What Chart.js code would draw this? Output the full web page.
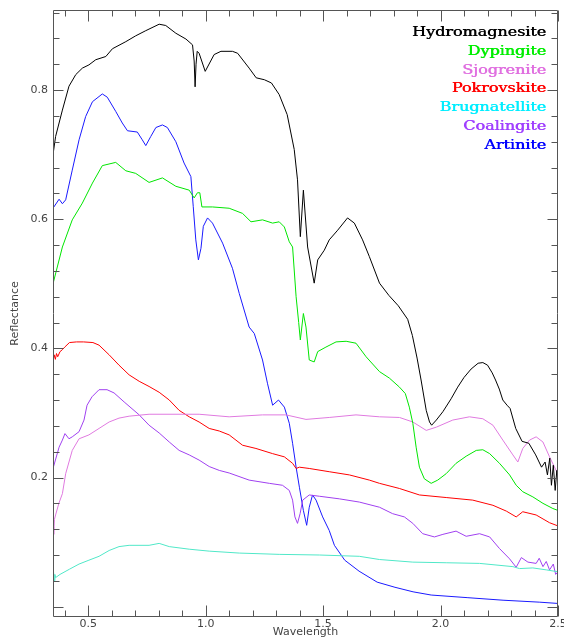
<!DOCTYPE html>
<html><head><meta charset="utf-8">
<script src="https://cdn.jsdelivr.net/npm/chart.js@4.4.1/dist/chart.umd.min.js"></script>
<style>html,body{margin:0;padding:0;background:#fff;}canvas{display:block;}</style>
</head><body>
<canvas id="c" width="564" height="639"></canvas>
<script>
// ---- data (wavelength in microns, reflectance) ----
const hydroX = [0.35,0.361,0.39,0.418,0.447,0.475,0.503,0.532,0.575,0.603,0.66,0.702,0.745,0.802,0.83,0.873,0.916,0.944,0.951,0.955,0.959,0.964,0.972,0.998,1.036,1.065,1.114,1.136,1.185,1.215,1.25,1.28,1.313,1.347,1.377,1.391,1.403,1.416,1.434,1.462,1.477,1.505,1.526,1.562,1.604,1.633,1.668,1.697,1.74,1.78,1.82,1.86,1.88,1.90,1.917,1.939,1.953,1.962,1.982,2.01,2.045,2.073,2.10,2.13,2.16,2.18,2.20,2.22,2.234,2.25,2.265,2.283,2.296,2.32,2.347,2.376,2.405,2.43,2.445,2.455,2.465,2.472,2.48,2.488,2.495,2.5];
const hydroY = [0.70,0.728,0.769,0.806,0.824,0.834,0.839,0.847,0.852,0.864,0.875,0.884,0.892,0.902,0.90,0.888,0.879,0.87,0.845,0.805,0.84,0.86,0.857,0.829,0.855,0.86,0.86,0.857,0.834,0.819,0.816,0.811,0.793,0.762,0.708,0.661,0.573,0.645,0.557,0.501,0.537,0.552,0.568,0.583,0.602,0.594,0.568,0.542,0.501,0.482,0.466,0.445,0.42,0.385,0.351,0.304,0.286,0.281,0.289,0.302,0.322,0.34,0.355,0.368,0.377,0.378,0.374,0.362,0.351,0.337,0.32,0.312,0.307,0.276,0.256,0.253,0.235,0.216,0.224,0.204,0.23,0.188,0.219,0.18,0.211,0.196];

const dypX = [0.35,0.39,0.432,0.475,0.518,0.56,0.617,0.66,0.702,0.759,0.816,0.873,0.93,0.951,0.965,0.975,0.984,1.029,1.10,1.157,1.193,1.242,1.285,1.313,1.335,1.356,1.37,1.385,1.396,1.403,1.416,1.427,1.441,1.462,1.477,1.512,1.555,1.598,1.64,1.683,1.74,1.782,1.825,1.85,1.867,1.882,1.896,1.91,1.931,1.96,1.988,2.024,2.066,2.109,2.152,2.18,2.209,2.251,2.294,2.322,2.35,2.393,2.436,2.478,2.5];
const dypY = [0.50,0.557,0.599,0.625,0.656,0.683,0.688,0.675,0.671,0.657,0.664,0.651,0.645,0.633,0.641,0.641,0.619,0.619,0.617,0.609,0.596,0.599,0.594,0.596,0.588,0.565,0.557,0.48,0.44,0.413,0.454,0.433,0.382,0.379,0.395,0.402,0.41,0.411,0.408,0.387,0.364,0.354,0.34,0.33,0.309,0.284,0.247,0.216,0.198,0.191,0.196,0.206,0.222,0.233,0.242,0.243,0.237,0.222,0.204,0.188,0.178,0.17,0.16,0.152,0.149];

const sjoX = [0.35,0.353,0.356,0.361,0.375,0.39,0.404,0.432,0.461,0.503,0.546,0.589,0.631,0.674,0.759,0.972,1.10,1.242,1.342,1.427,1.526,1.64,1.74,1.825,1.882,1.939,1.982,2.052,2.123,2.18,2.223,2.265,2.308,2.329,2.35,2.379,2.407,2.436,2.464,2.5];
const sjoY = [0.123,0.112,0.135,0.142,0.16,0.175,0.206,0.242,0.26,0.266,0.276,0.286,0.292,0.295,0.298,0.298,0.294,0.297,0.297,0.29,0.293,0.297,0.294,0.293,0.286,0.273,0.278,0.289,0.294,0.291,0.281,0.258,0.235,0.224,0.245,0.258,0.263,0.255,0.232,0.205];

const pokX = [0.35,0.355,0.36,0.365,0.37,0.38,0.39,0.40,0.42,0.45,0.48,0.52,0.546,0.589,0.631,0.674,0.717,0.759,0.802,0.845,0.887,0.93,0.972,1.015,1.058,1.10,1.157,1.214,1.285,1.335,1.37,1.385,1.399,1.441,1.526,1.612,1.697,1.74,1.825,1.91,2.024,2.137,2.223,2.28,2.322,2.35,2.407,2.464,2.5];
const pokY = [0.38,0.39,0.383,0.392,0.387,0.395,0.398,0.402,0.409,0.41,0.41,0.409,0.405,0.39,0.374,0.359,0.349,0.341,0.332,0.32,0.304,0.294,0.286,0.276,0.272,0.266,0.25,0.245,0.237,0.232,0.222,0.214,0.216,0.214,0.209,0.204,0.196,0.191,0.183,0.173,0.169,0.165,0.157,0.148,0.139,0.147,0.142,0.13,0.125];

const bruX = [0.35,0.352,0.355,0.358,0.361,0.38,0.42,0.461,0.503,0.546,0.589,0.631,0.674,0.759,0.802,0.845,0.93,1.015,1.143,1.313,1.484,1.654,1.74,1.882,2.024,2.166,2.308,2.336,2.393,2.45,2.5];
const bruY = [0.042,0.055,0.04,0.05,0.045,0.05,0.058,0.066,0.072,0.078,0.087,0.093,0.095,0.095,0.098,0.093,0.089,0.086,0.083,0.081,0.08,0.078,0.073,0.069,0.068,0.067,0.062,0.059,0.06,0.057,0.054];

const coaX = [0.35,0.376,0.39,0.401,0.418,0.432,0.461,0.482,0.495,0.516,0.546,0.58,0.61,0.653,0.717,0.759,0.802,0.845,0.887,0.93,0.972,1.015,1.058,1.10,1.185,1.271,1.327,1.356,1.37,1.38,1.391,1.402,1.413,1.441,1.484,1.569,1.654,1.74,1.796,1.846,1.882,1.924,1.974,2.01,2.066,2.109,2.166,2.209,2.251,2.294,2.322,2.344,2.372,2.407,2.42,2.436,2.45,2.464,2.48,2.49,2.5];
const coaY = [0.214,0.247,0.258,0.268,0.26,0.263,0.271,0.289,0.312,0.325,0.336,0.336,0.331,0.317,0.297,0.281,0.269,0.255,0.242,0.235,0.227,0.217,0.211,0.207,0.196,0.191,0.188,0.18,0.165,0.139,0.129,0.144,0.165,0.173,0.171,0.167,0.162,0.154,0.144,0.139,0.129,0.113,0.108,0.112,0.117,0.109,0.113,0.108,0.09,0.074,0.061,0.076,0.069,0.067,0.075,0.062,0.07,0.057,0.066,0.05,0.054];

const artX = [0.35,0.376,0.39,0.404,0.432,0.461,0.489,0.518,0.56,0.581,0.617,0.645,0.667,0.709,0.73,0.745,0.766,0.788,0.816,0.837,0.873,0.908,0.937,0.947,0.958,0.969,0.98,0.99,1.008,1.029,1.072,1.114,1.143,1.185,1.207,1.242,1.263,1.285,1.31,1.335,1.356,1.37,1.385,1.399,1.416,1.43,1.441,1.455,1.47,1.498,1.526,1.548,1.592,1.653,1.73,1.806,1.883,1.96,2.113,2.266,2.42,2.5];
const artY = [0.617,0.631,0.624,0.63,0.676,0.723,0.759,0.782,0.794,0.789,0.767,0.749,0.737,0.735,0.723,0.714,0.728,0.742,0.746,0.742,0.72,0.687,0.666,0.62,0.568,0.537,0.555,0.589,0.602,0.594,0.563,0.524,0.485,0.433,0.423,0.382,0.346,0.312,0.32,0.309,0.284,0.253,0.216,0.185,0.149,0.126,0.154,0.173,0.165,0.139,0.118,0.095,0.072,0.055,0.038,0.03,0.023,0.018,0.014,0.01,0.007,0.005];

const names = ['Hydromagnesite','Dypingite','Sjogrenite','Pokrovskite','Brugnatellite','Coalingite','Artinite'];
const lineColors = ['#000000','#00e600','#e07ae0','#ff0000','#50e8c8','#a040f0','#1a1aff'];
const labelColors = ['#000000','#00ee00','#e070e0','#ff0000','#00eeff','#a040ff','#0000ff'];
const seriesX = [hydroX, dypX, sjoX, pokX, bruX, coaX, artX];
const seriesY = [hydroY, dypY, sjoY, pokY, bruY, coaY, artY];

const xMin = 0.35, xMax = 2.5, yMin = -0.016, yMax = 0.924;
const xTickLabels = [0.5, 1.0, 1.5, 2.0, 2.5];
const yTickLabels = [0.2, 0.4, 0.6, 0.8];

const datasets = names.map((n, i) => ({
  label: n,
  data: seriesX[i].map((x, j) => ({x: x, y: seriesY[i][j]})),
  borderColor: lineColors[i],
  backgroundColor: lineColors[i],
  borderWidth: 1,
  pointRadius: 0,
  tension: 0,
  fill: false
}));

const axisColor = '#555';
const textColor = '#444';

const framePlugin = {
  id: 'frame',
  afterDraw(chart) {
    const ctx = chart.ctx, a = chart.chartArea, xs = chart.scales.x, ys = chart.scales.y;
    const L = Math.round(a.left) + 0.5, R = Math.round(a.right) - 0.5;
    const T = Math.round(a.top) + 0.5, B = Math.round(a.bottom) - 0.5;
    ctx.save();
    ctx.strokeStyle = axisColor;
    ctx.lineWidth = 1;
    ctx.beginPath();
    ctx.rect(L, T, R - L, B - T);
    // x ticks every 0.1, major every 0.5
    for (let k = 4; k <= 25; k++) {
      const px = Math.round(xs.getPixelForValue(k / 10)) + 0.5;
      const len = (k % 5 === 0) ? 11 : 6;
      ctx.moveTo(px, B); ctx.lineTo(px, B - len);
      ctx.moveTo(px, T); ctx.lineTo(px, T + len);
    }
    // y ticks every 0.04, major every 0.2
    for (let k = 0; k * 0.04 <= yMax; k++) {
      const py = Math.round(ys.getPixelForValue(k * 0.04)) + 0.5;
      const len = (k % 5 === 0) ? 10 : 6;
      ctx.moveTo(L, py); ctx.lineTo(L + len, py);
      ctx.moveTo(R, py); ctx.lineTo(R - len, py);
    }
    ctx.stroke();

    // legend (right aligned, stacked)
    ctx.font = '13px "DejaVu Serif"';
    const sx = 134 / ctx.measureText(names[0]).width;
    ctx.textAlign = 'right';
    ctx.textBaseline = 'alphabetic';
    chart.data.datasets.forEach((ds, i) => {
      ctx.save();
      ctx.translate(546, 36 + i * 18.8);
      ctx.scale(sx, 1);
      ctx.fillStyle = labelColors[i];
      ctx.fillText(ds.label, 0, 0);
      ctx.fillText(ds.label, 0.5, 0);
      ctx.restore();
    });
    ctx.restore();
  }
};

new Chart(document.getElementById('c'), {
  type: 'line',
  data: {datasets: datasets},
  options: {
    responsive: false,
    animation: false,
    devicePixelRatio: 1,
    layout: {padding: {top: 10, right: 6, left: 0, bottom: 0}},
    plugins: {legend: {display: false}, tooltip: {enabled: false}},
    scales: {
      x: {
        type: 'linear', min: xMin, max: xMax,
        grid: {display: false, drawTicks: false},
        border: {display: false},
        afterBuildTicks: s => { s.ticks = xTickLabels.map(v => ({value: v})); },
        ticks: {
          autoSkip: false, maxRotation: 0, padding: 1,
          color: textColor, font: {family: 'DejaVu Sans', size: 11},
          callback: v => Number(v).toFixed(1)
        },
        title: {display: true, text: 'Wavelength', color: textColor, font: {family: 'DejaVu Sans', size: 11}, padding: 0},
        afterFit: s => { s.height = 22; s.paddingLeft = 0; s.paddingRight = 0; }
      },
      y: {
        type: 'linear', min: yMin, max: yMax,
        grid: {display: false, drawTicks: false},
        border: {display: false},
        afterBuildTicks: s => { s.ticks = yTickLabels.map(v => ({value: v})); },
        ticks: {
          autoSkip: false, padding: 5,
          color: textColor, font: {family: 'DejaVu Sans', size: 11},
          callback: v => Number(v).toFixed(1)
        },
        title: {display: true, text: 'Reflectance', color: textColor, font: {family: 'DejaVu Sans', size: 11}, padding: {top: 9, bottom: 0}},
        afterFit: s => { s.width = 53; s.paddingTop = 0; s.paddingBottom = 0; }
      }
    }
  },
  plugins: [framePlugin]
});
</script>
</body></html>
